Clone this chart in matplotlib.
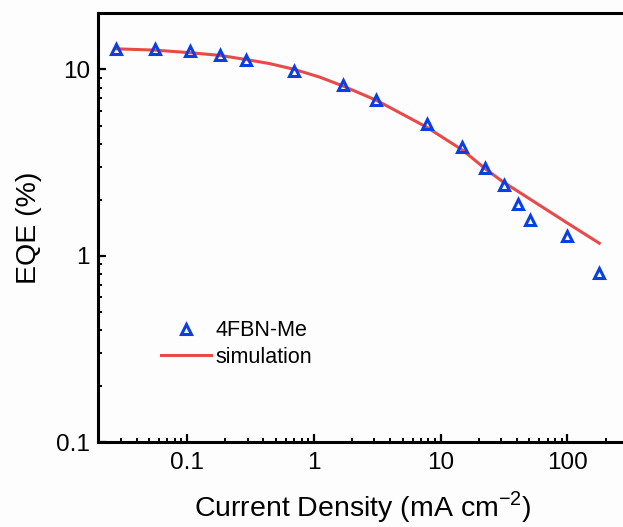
import matplotlib
matplotlib.use("Agg")
import matplotlib.pyplot as plt
from matplotlib.ticker import LogLocator, FixedLocator, NullFormatter, FixedFormatter

plt.rcParams["font.family"] = ["Liberation Sans", "DejaVu Sans"]

# measured EQE roll-off, 4FBN-Me device
j_meas = [0.0276, 0.0555, 0.105, 0.182, 0.293, 0.697, 1.70, 3.08, 7.87,
          14.8, 22.5, 31.3, 41.0, 51.0, 100.0, 177.0]
eqe_meas = [12.8, 12.9, 12.6, 11.9, 11.2, 9.82, 8.23, 6.84, 5.09,
            3.82, 2.95, 2.39, 1.90, 1.55, 1.275, 0.808]

# simulated curve
j_sim = [0.0277, 0.0555, 0.105, 0.181, 0.293, 0.448, 0.705, 1.11, 1.69,
         3.10, 7.69, 14.9, 22.8, 30.9, 51.0, 99.8, 178.0]
eqe_sim = [12.9, 12.7, 12.3, 11.9, 11.3, 10.75, 10.0, 9.1, 8.16,
           6.84, 4.92, 3.69, 2.91, 2.50, 2.01, 1.50, 1.17]

x_ticks = [0.1, 1, 10, 100]
x_labels = ["0.1", "1", "10", "100"]
y_ticks = [0.1, 1, 10]
y_labels = ["0.1", "1", "10"]

fig = plt.figure(figsize=(6.23, 5.27), dpi=100, facecolor="#fdfdfd")
ax = fig.add_axes([0.158, 0.1607, 0.85, 0.814])
ax.set_facecolor("#fdfdfd")

ax.plot(j_sim, eqe_sim, color="#e84a4a", lw=2.2, label="simulation", zorder=2)
ax.plot(j_meas, eqe_meas, ls="none", marker="^", ms=7, mfc="none",
        mec="#0b3fe6", mew=2.2, label="4FBN-Me", zorder=3)

ax.set_xscale("log")
ax.set_yscale("log")
ax.set_xlim(0.02, 300)
ax.set_ylim(0.1, 20)

ax.xaxis.set_major_locator(FixedLocator(x_ticks))
ax.xaxis.set_major_formatter(FixedFormatter(x_labels))
ax.yaxis.set_major_locator(FixedLocator(y_ticks))
ax.yaxis.set_major_formatter(FixedFormatter(y_labels))
ax.xaxis.set_minor_locator(LogLocator(base=10, subs=range(2, 10)))
ax.yaxis.set_minor_locator(LogLocator(base=10, subs=range(2, 10)))
ax.xaxis.set_minor_formatter(NullFormatter())
ax.yaxis.set_minor_formatter(NullFormatter())

for side in ["left", "bottom", "top"]:
    ax.spines[side].set_linewidth(2.2)
ax.spines["right"].set_visible(False)

ax.tick_params(which="major", direction="in", length=5.5, width=1.6,
               labelsize=17.5, top=False, right=False)
ax.tick_params(which="minor", direction="in", length=3.2, width=1.4,
               top=False, right=False)
ax.tick_params(axis="x", which="major", pad=7)
ax.tick_params(axis="y", which="major", pad=6)

ax.set_xlabel("Current Density (mA cm$^{\\mathregular{-2}}$)", fontsize=20.5,
              labelpad=11)
ax.set_ylabel("EQE (%)", fontsize=20.5, labelpad=10)

handles, labels = ax.get_legend_handles_labels()
ax.legend(handles[::-1], labels[::-1], loc="upper left",
          bbox_to_anchor=(0.082, 0.33), frameon=False, fontsize=15.5,
          handlelength=2.3, handletextpad=0.2, labelspacing=0.25,
          numpoints=1)

fig.savefig("out.png", dpi=100, facecolor=fig.get_facecolor())
